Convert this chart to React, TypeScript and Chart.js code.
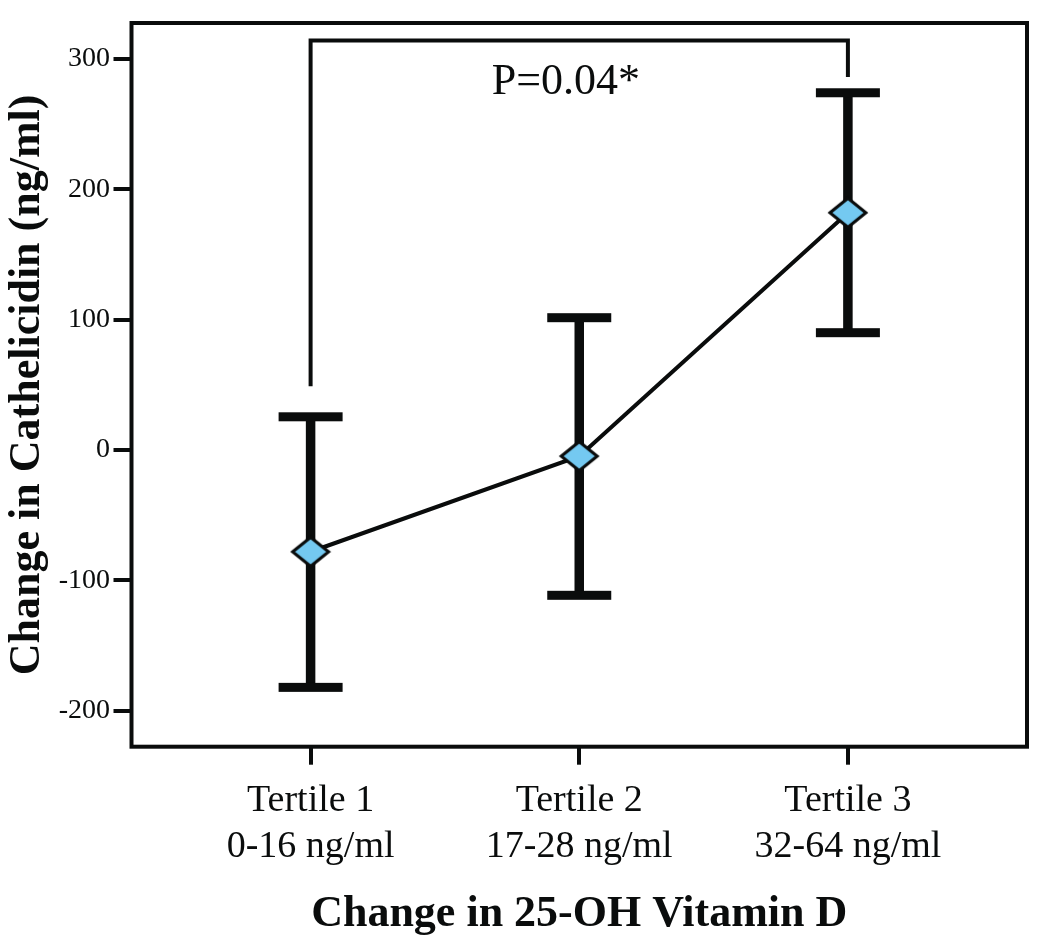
import React, { useEffect, useRef } from "react";
import { Chart, registerables } from "chart.js";

Chart.register(...registerables);

// ---- data ----
const categories: string[][] = [
  ["Tertile 1", "0-16 ng/ml"],
  ["Tertile 2", "17-28 ng/ml"],
  ["Tertile 3", "32-64 ng/ml"],
];
const xPositions = [1, 2, 3];
const meanValues = [-78, -4.7, 182];
const upperValues = [25.5, 101.5, 274];
const lowerValues = [-182, -111.4, 90];
const yTickValues = [-200, -100, 0, 100, 200, 300];
const bracketX = [1, 1, 3, 3];
const bracketY = [49, 314, 314, 286];
const pValueLabel = "P=0.04*";
const yAxisTitle = "Change in Cathelicidin (ng/ml)";
const xAxisTitle = "Change in 25-OH Vitamin D";

// ---- style ----
const INK = "#0a0c0c";
const MARKER_FILL = "#74C9F1";
const SERIF = "'Liberation Serif', 'Times New Roman', serif";
const LABEL_ANCHOR = { x: 1.95, y: 282 };

function makeDiamond(): HTMLCanvasElement {
  const c = document.createElement("canvas");
  c.width = 42;
  c.height = 36;
  const g = c.getContext("2d")!;
  const cx = 21, cy = 18, hw = 18, hh = 14.5;
  g.beginPath();
  g.moveTo(cx - hw, cy);
  g.lineTo(cx, cy - hh);
  g.lineTo(cx + hw, cy);
  g.lineTo(cx, cy + hh);
  g.closePath();
  g.fillStyle = MARKER_FILL;
  g.fill();
  g.lineWidth = 3;
  g.lineJoin = "miter";
  g.strokeStyle = INK;
  g.stroke();
  return c;
}

const framePlugin = {
  id: "frame",
  beforeDatasetsDraw(chart: any) {
    const { ctx, chartArea } = chart;
    ctx.save();
    ctx.strokeStyle = INK;
    ctx.lineWidth = 4;
    ctx.strokeRect(chartArea.left, chartArea.top, chartArea.right - chartArea.left, chartArea.bottom - chartArea.top);
    ctx.restore();
  },
};

const errorBarPlugin = {
  id: "errorBars",
  beforeDatasetsDraw(chart: any) {
    const { ctx } = chart;
    const xs = chart.scales.x;
    const ys = chart.scales.y;
    ctx.save();
    ctx.fillStyle = INK;
    xPositions.forEach((xv, i) => {
      const px = xs.getPixelForValue(xv);
      const top = ys.getPixelForValue(upperValues[i]);
      const bot = ys.getPixelForValue(lowerValues[i]);
      ctx.fillRect(px - 4.75, top, 9.5, bot - top);
      ctx.fillRect(px - 32, top - 4.5, 64, 9);
      ctx.fillRect(px - 32, bot - 4.5, 64, 9);
    });
    ctx.restore();
  },
};

const labelPlugin = {
  id: "pLabel",
  afterDatasetsDraw(chart: any) {
    const { ctx } = chart;
    const px = chart.scales.x.getPixelForValue(LABEL_ANCHOR.x);
    const py = chart.scales.y.getPixelForValue(LABEL_ANCHOR.y);
    ctx.save();
    ctx.fillStyle = INK;
    ctx.font = `44px ${SERIF}`;
    ctx.textAlign = "center";
    ctx.textBaseline = "middle";
    ctx.fillText(pValueLabel, px, py);
    ctx.restore();
  },
};

export default function App() {
  const ref = useRef<HTMLCanvasElement | null>(null);

  useEffect(() => {
    if (!ref.current) return;
    const diamond = makeDiamond();
    const tickGrid = {
      display: true,
      drawOnChartArea: false,
      drawTicks: true,
      tickLength: 18,
      tickWidth: 4,
      tickColor: INK,
      color: INK,
      lineWidth: 4,
    };
    const chart = new Chart(ref.current, {
      type: "line",
      data: {
        datasets: [
          {
            data: xPositions.map((x, i) => ({ x, y: meanValues[i] })),
            borderColor: INK,
            borderWidth: 4,
            tension: 0,
            pointStyle: diamond as any,
            pointRadius: 19,
            pointHoverRadius: 19,
          },
          {
            data: bracketX.map((x, i) => ({ x, y: bracketY[i] })),
            borderColor: INK,
            borderWidth: 4,
            tension: 0,
            pointRadius: 0,
            borderCapStyle: "butt",
            borderJoinStyle: "miter",
          },
        ],
      },
      options: {
        animation: false,
        responsive: false,
        maintainAspectRatio: false,
        layout: { padding: { top: 17, right: 3.3, left: 0, bottom: 0 } },
        plugins: { legend: { display: false }, tooltip: { enabled: false } },
        scales: {
          x: {
            type: "linear",
            min: 1 / 3,
            max: 11 / 3,
            afterBuildTicks: (s: any) => {
              s.ticks = xPositions.map((v) => ({ value: v }));
            },
            afterFit: (s: any) => {
              s.height = 199.3;
            },
            ticks: {
              autoSkip: false,
              maxRotation: 0,
              padding: 12.5,
              color: INK,
              font: { family: SERIF, size: 38, lineHeight: 1.23 },
              callback: (_v: any, i: number) => categories[i],
            },
            grid: tickGrid,
            border: { display: false },
            title: {
              display: true,
              text: xAxisTitle,
              color: INK,
              font: { family: SERIF, size: 44, weight: "bold", lineHeight: 1.2 },
              padding: { top: 0, bottom: 4.6 },
            },
          },
          y: {
            type: "linear",
            min: -227.5,
            max: 327.5,
            afterBuildTicks: (s: any) => {
              s.ticks = yTickValues.map((v) => ({ value: v }));
            },
            afterFit: (s: any) => {
              s.width = 131.5;
            },
            ticks: {
              autoSkip: false,
              padding: 3.5,
              color: INK,
              font: { family: SERIF, size: 28 },
              callback: (v: any) => String(v),
            },
            grid: tickGrid,
            border: { display: false },
            title: {
              display: true,
              text: yAxisTitle,
              color: INK,
              font: { family: SERIF, size: 44, weight: "bold", lineHeight: 1.2 },
              padding: { top: 0.8, bottom: 0 },
            },
          },
        },
      } as any,
      plugins: [framePlugin, errorBarPlugin, labelPlugin],
    });
    return () => chart.destroy();
  }, []);

  return (
    <div style={{ position: "absolute", left: 0, top: 0, width: 1050, height: 946, background: "#fff" }}>
      <canvas ref={ref} width={1050} height={946} style={{ display: "block" }} />
    </div>
  );
}
